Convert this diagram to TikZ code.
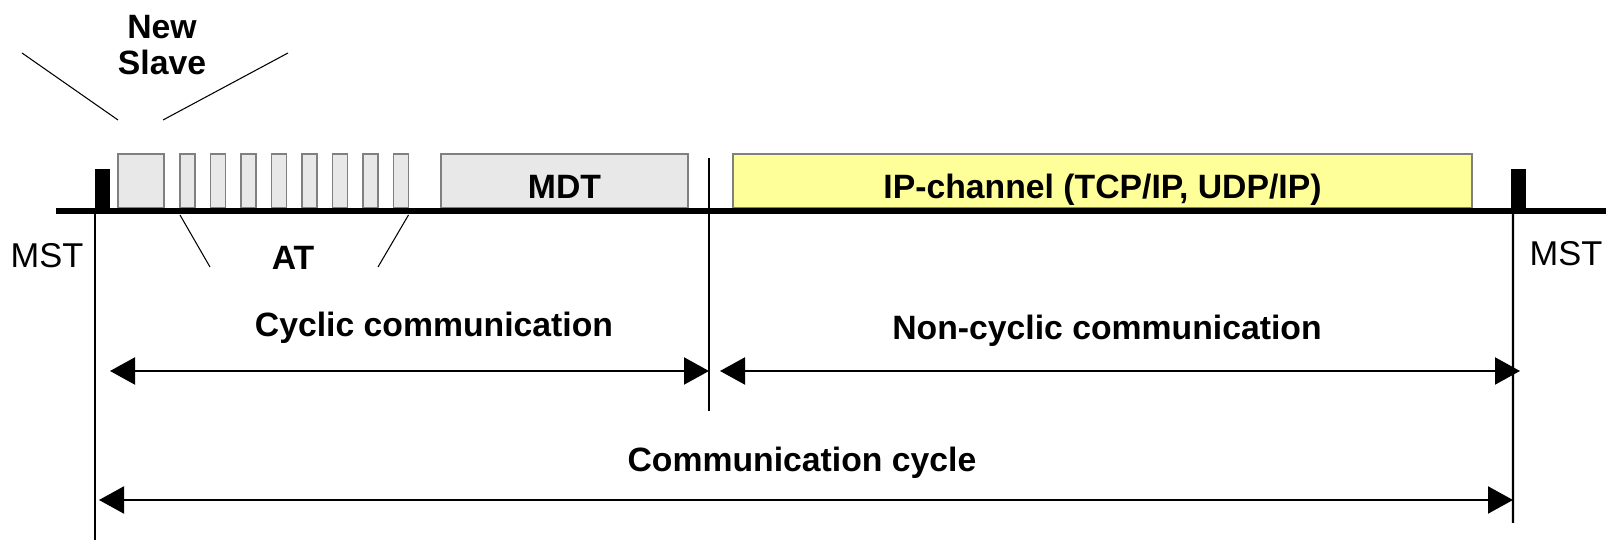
\documentclass[tikz,border=0pt]{standalone}
\usepackage{fontspec}
\setmainfont{Liberation Sans}
\usetikzlibrary{arrows.meta}

\tikzset{
  paket/.style={draw=gray, fill=gray!18, inner sep=0pt, outer sep=0pt, anchor=south west, minimum height=5.4mm},
  mstblock/.style={fill=black, inner sep=0pt, outer sep=0pt, anchor=south west, minimum width=1.5mm, minimum height=4.2mm},
  beschr/.style={font=\fontsize{9.6}{11}\selectfont\bfseries, align=center},
  normal/.style={font=\fontsize{9.8}{11}\selectfont},
  dauer/.style={{Triangle[length=2.5mm,width=2.7mm]}-{Triangle[length=2.5mm,width=2.7mm]}, line width=0.6pt},
}

\begin{document}
\begin{tikzpicture}[x=0.1mm, y=-0.1mm]
	\useasboundingbox (0,0) rectangle (1606,540);
	% Telegramme
	\node[mstblock] (mstl) at (95,211) {};
	\node[mstblock] (mstr) at (1511,211) {};
	\node[paket, minimum width=4.6mm] (ns) at (118,208) {};
	\foreach \i in {0,...,7}
		\node[paket, minimum width=1.5mm] (at\i) at ({180+30.5*\i},208) {};
	\node[paket, minimum width=24.7mm, text height=3.5mm, text depth=0mm, beschr] (mdt) at (441,208) {MDT};
	\node[paket, minimum width=73.9mm, text height=3.5mm, text depth=0mm, fill={rgb,255:red,255;green,255;blue,153}, beschr] (ip) at (733,208) {IP-channel (TCP/IP, UDP/IP)};
	% Bus
	\draw[line width=0.6mm] (56,211) -- (1606,211);
	% Beschriftung
	\node[beschr] (new) at (162,45) {New\\[-1pt]Slave};
	\node[beschr] (at) at (293,258) {AT};
	\node[normal] (mstlt) at (47,256) {MST};
	\node[normal] (mstrt) at (1566,254) {MST};
	\node[beschr] (cyc) at (434,328) {Cyclic communication};
	\node[beschr] (ncyc) at (1107,331) {Non-cyclic communication};
	\node[beschr] (cycle) at (802,463) {Communication cycle};
	% Hinweislinien
	\coordinate (nsl) at (22,53);
	\coordinate (nsr) at (288,53);
	\coordinate (atl) at (210,267);
	\coordinate (atr) at (378,267);
	\draw[line width=0.3pt] (nsl) -- ([yshift=3.4mm]ns.north west);
	\draw[line width=0.3pt] (nsr) -- ([yshift=3.4mm, xshift=-0.1mm]ns.north east);
	\draw[line width=0.3pt] (atl) -- ([yshift=-0.7mm]at0.south west);
	\draw[line width=0.3pt] (atr) -- ([yshift=-0.7mm]at7.south east);
	% Zeitmarken
	\coordinate (lb) at (95,540);
	\coordinate (mt) at (709,158);
	\coordinate (mb) at (709,411);
	\coordinate (rb) at (1513,523);
	\draw[line width=0.6pt] (mstl.south west) -- (lb);
	\draw[line width=0.6pt] (mt) -- (mb);
	\draw[line width=0.6pt] ([xshift=0.2mm]mstr.south west) -- (rb);
	% Pfeile
	\coordinate (c1) at (110,371);
	\coordinate (c2) at (720,371);
	\coordinate (c3) at (1520,371);
	\coordinate (c4) at (99,500);
	\draw[dauer] (c1) -- (mt |- c1);
	\draw[dauer] (c2) -- (c3);
	\draw[dauer] (c4) -- (rb |- c4);
\end{tikzpicture}
\end{document}
